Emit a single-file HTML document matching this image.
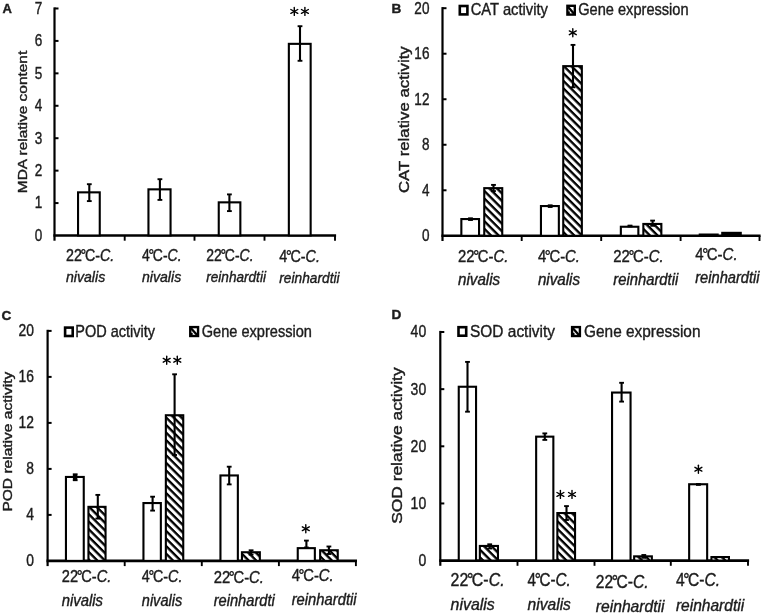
<!DOCTYPE html>
<html><head><meta charset="utf-8"><title>Figure</title>
<style>
html,body{margin:0;padding:0;background:#fff;}
body{width:763px;height:614px;overflow:hidden;}
svg text{stroke:#1c1c1c;stroke-width:0.4px;}
svg{display:block;filter:blur(0.6px);font-family:"Liberation Sans",sans-serif;fill:#1c1c1c;}
</style></head><body>
<svg width="763" height="614" viewBox="0 0 763 614">
<defs>
<pattern id="hatch" patternUnits="userSpaceOnUse" width="5.35" height="5.35" patternTransform="rotate(45)">
<rect x="0" y="0" width="5.35" height="5.35" fill="#fff"/>
<rect x="0" y="0" width="5.35" height="2.35" fill="#000"/>
</pattern>
</defs>
<rect x="0" y="0" width="763" height="614" fill="#fff"/>
<line x1="54.5" y1="7.4" x2="54.5" y2="240.7" stroke="#000" stroke-width="2.2" stroke-linecap="butt"/>
<line x1="53.4" y1="235.5" x2="336.1" y2="235.5" stroke="#000" stroke-width="2.6" stroke-linecap="butt"/>
<line x1="54.5" y1="203.07" x2="58.5" y2="203.07" stroke="#000" stroke-width="2.0" stroke-linecap="butt"/>
<line x1="54.5" y1="170.64" x2="58.5" y2="170.64" stroke="#000" stroke-width="2.0" stroke-linecap="butt"/>
<line x1="54.5" y1="138.21" x2="58.5" y2="138.21" stroke="#000" stroke-width="2.0" stroke-linecap="butt"/>
<line x1="54.5" y1="105.78" x2="58.5" y2="105.78" stroke="#000" stroke-width="2.0" stroke-linecap="butt"/>
<line x1="54.5" y1="73.35" x2="58.5" y2="73.35" stroke="#000" stroke-width="2.0" stroke-linecap="butt"/>
<line x1="54.5" y1="40.920000000000016" x2="58.5" y2="40.920000000000016" stroke="#000" stroke-width="2.0" stroke-linecap="butt"/>
<line x1="54.5" y1="8.490000000000009" x2="58.5" y2="8.490000000000009" stroke="#000" stroke-width="2.0" stroke-linecap="butt"/>
<line x1="124.7" y1="235.5" x2="124.7" y2="240.7" stroke="#000" stroke-width="1.9" stroke-linecap="butt"/>
<line x1="194.5" y1="235.5" x2="194.5" y2="240.7" stroke="#000" stroke-width="1.9" stroke-linecap="butt"/>
<line x1="264.5" y1="235.5" x2="264.5" y2="240.7" stroke="#000" stroke-width="1.9" stroke-linecap="butt"/>
<line x1="335" y1="235.5" x2="335" y2="240.7" stroke="#000" stroke-width="1.9" stroke-linecap="butt"/>
<text font-size="16.3" text-anchor="end" transform="translate(42.2,240.8) scale(0.8300,1)">0</text>
<text font-size="16.3" text-anchor="end" transform="translate(42.2,208.37) scale(0.8300,1)">1</text>
<text font-size="16.3" text-anchor="end" transform="translate(42.2,175.94) scale(0.8300,1)">2</text>
<text font-size="16.3" text-anchor="end" transform="translate(42.2,143.51000000000002) scale(0.8300,1)">3</text>
<text font-size="16.3" text-anchor="end" transform="translate(42.2,111.08) scale(0.8300,1)">4</text>
<text font-size="16.3" text-anchor="end" transform="translate(42.2,78.64999999999999) scale(0.8300,1)">5</text>
<text font-size="16.3" text-anchor="end" transform="translate(42.2,46.22000000000001) scale(0.8300,1)">6</text>
<text font-size="16.3" text-anchor="end" transform="translate(42.2,13.79000000000001) scale(0.8300,1)">7</text>
<text font-size="13" font-weight="bold" transform="translate(2.6,12.5) scale(1.0000,1)">A</text>
<text font-size="13.3" transform="translate(27.4,193.2) rotate(-90) scale(1.1613,1)">MDA relative content</text>
<rect x="78.05" y="192.35" width="21.70" height="43.15" fill="#fff" stroke="#000" stroke-width="2.1"/>
<line x1="89.3" y1="184.2" x2="89.3" y2="201.1" stroke="#000" stroke-width="2.1" stroke-linecap="butt"/>
<line x1="86.89999999999999" y1="184.2" x2="91.7" y2="184.2" stroke="#000" stroke-width="1.8900000000000001" stroke-linecap="butt"/>
<line x1="86.89999999999999" y1="201.1" x2="91.7" y2="201.1" stroke="#000" stroke-width="1.8900000000000001" stroke-linecap="butt"/>
<rect x="148.45" y="189.35" width="22.10" height="46.15" fill="#fff" stroke="#000" stroke-width="2.1"/>
<line x1="159.9" y1="179.2" x2="159.9" y2="199.9" stroke="#000" stroke-width="2.1" stroke-linecap="butt"/>
<line x1="157.5" y1="179.2" x2="162.3" y2="179.2" stroke="#000" stroke-width="1.8900000000000001" stroke-linecap="butt"/>
<line x1="157.5" y1="199.9" x2="162.3" y2="199.9" stroke="#000" stroke-width="1.8900000000000001" stroke-linecap="butt"/>
<rect x="218.75" y="202.35" width="21.60" height="33.15" fill="#fff" stroke="#000" stroke-width="2.1"/>
<line x1="229.4" y1="194.4" x2="229.4" y2="211.1" stroke="#000" stroke-width="2.1" stroke-linecap="butt"/>
<line x1="227.0" y1="194.4" x2="231.8" y2="194.4" stroke="#000" stroke-width="1.8900000000000001" stroke-linecap="butt"/>
<line x1="227.0" y1="211.1" x2="231.8" y2="211.1" stroke="#000" stroke-width="1.8900000000000001" stroke-linecap="butt"/>
<rect x="288.85" y="43.85" width="21.80" height="191.65" fill="#fff" stroke="#000" stroke-width="2.1"/>
<line x1="300" y1="26.2" x2="300" y2="60.8" stroke="#000" stroke-width="2.1" stroke-linecap="butt"/>
<line x1="297.6" y1="26.2" x2="302.4" y2="26.2" stroke="#000" stroke-width="1.8900000000000001" stroke-linecap="butt"/>
<line x1="297.6" y1="60.8" x2="302.4" y2="60.8" stroke="#000" stroke-width="1.8900000000000001" stroke-linecap="butt"/>
<line x1="294.30" y1="7.40" x2="294.30" y2="15.40" stroke="#000" stroke-width="1.4" stroke-linecap="round"/>
<line x1="290.84" y1="9.50" x2="297.76" y2="13.30" stroke="#000" stroke-width="1.4" stroke-linecap="round"/>
<line x1="297.76" y1="9.50" x2="290.84" y2="13.30" stroke="#000" stroke-width="1.4" stroke-linecap="round"/>
<line x1="304.90" y1="7.40" x2="304.90" y2="15.40" stroke="#000" stroke-width="1.4" stroke-linecap="round"/>
<line x1="301.44" y1="9.50" x2="308.36" y2="13.30" stroke="#000" stroke-width="1.4" stroke-linecap="round"/>
<line x1="308.36" y1="9.50" x2="301.44" y2="13.30" stroke="#000" stroke-width="1.4" stroke-linecap="round"/>
<text font-size="16.0" transform="translate(66,260.5) scale(0.8912,1)">22<tspan dx="-1.44">°</tspan><tspan dx="-1.44">C-</tspan><tspan font-style="italic">C.</tspan></text>
<text font-size="15.1" font-style="italic" transform="translate(66,282.3) scale(0.9342,1)">nivalis</text>
<text font-size="16.0" transform="translate(142,260.5) scale(0.8742,1)">4<tspan dx="-1.44">°</tspan><tspan dx="-1.44">C-</tspan><tspan font-style="italic">C.</tspan></text>
<text font-size="15.1" font-style="italic" transform="translate(142,282.3) scale(0.9342,1)">nivalis</text>
<text font-size="16.0" transform="translate(206.2,260.5) scale(0.8746,1)">22<tspan dx="-1.44">°</tspan><tspan dx="-1.44">C-</tspan><tspan font-style="italic">C.</tspan></text>
<text font-size="15.1" font-style="italic" transform="translate(206.2,282.3) scale(0.9019,1)">reinhardtii</text>
<text font-size="16.0" transform="translate(279.3,261.5) scale(0.8963,1)">4<tspan dx="-1.44">°</tspan><tspan dx="-1.44">C-</tspan><tspan font-style="italic">C.</tspan></text>
<text font-size="15.1" font-style="italic" transform="translate(279.3,283.2) scale(0.9095,1)">reinhardtii</text>
<line x1="442.5" y1="7.1" x2="442.5" y2="241.0" stroke="#000" stroke-width="2.2" stroke-linecap="butt"/>
<line x1="441.4" y1="235.8" x2="760.6" y2="235.8" stroke="#000" stroke-width="2.6" stroke-linecap="butt"/>
<line x1="442.5" y1="190.28" x2="446.5" y2="190.28" stroke="#000" stroke-width="2.0" stroke-linecap="butt"/>
<line x1="442.5" y1="144.76" x2="446.5" y2="144.76" stroke="#000" stroke-width="2.0" stroke-linecap="butt"/>
<line x1="442.5" y1="99.24000000000001" x2="446.5" y2="99.24000000000001" stroke="#000" stroke-width="2.0" stroke-linecap="butt"/>
<line x1="442.5" y1="53.72" x2="446.5" y2="53.72" stroke="#000" stroke-width="2.0" stroke-linecap="butt"/>
<line x1="442.5" y1="8.199999999999989" x2="446.5" y2="8.199999999999989" stroke="#000" stroke-width="2.0" stroke-linecap="butt"/>
<line x1="521.7" y1="235.8" x2="521.7" y2="241.0" stroke="#000" stroke-width="1.9" stroke-linecap="butt"/>
<line x1="601.2" y1="235.8" x2="601.2" y2="241.0" stroke="#000" stroke-width="1.9" stroke-linecap="butt"/>
<line x1="680.6" y1="235.8" x2="680.6" y2="241.0" stroke="#000" stroke-width="1.9" stroke-linecap="butt"/>
<line x1="759.5" y1="235.8" x2="759.5" y2="241.0" stroke="#000" stroke-width="1.9" stroke-linecap="butt"/>
<text font-size="16.3" text-anchor="end" transform="translate(429.4,241.10000000000002) scale(0.8300,1)">0</text>
<text font-size="16.3" text-anchor="end" transform="translate(429.4,195.58) scale(0.8300,1)">4</text>
<text font-size="16.3" text-anchor="end" transform="translate(429.4,150.06) scale(0.8300,1)">8</text>
<text font-size="16.3" text-anchor="end" transform="translate(429.4,104.54) scale(0.8300,1)">12</text>
<text font-size="16.3" text-anchor="end" transform="translate(429.4,59.019999999999996) scale(0.8300,1)">16</text>
<text font-size="16.3" text-anchor="end" transform="translate(429.4,13.49999999999999) scale(0.8300,1)">20</text>
<text font-size="13.6" font-weight="bold" transform="translate(391.5,12.8) scale(1.0000,1)">B</text>
<text font-size="13.7" transform="translate(408.8,193) rotate(-90) scale(1.2256,1)">CAT relative activity</text>
<rect x="459.80" y="6.00" width="7.60" height="8.40" fill="#fff" stroke="#000" stroke-width="2.6"/>
<text font-size="16.6" transform="translate(470.7,15.4) scale(0.8884,1)">CAT activity</text>
<rect x="567.40" y="5.80" width="7.40" height="8.80" fill="#fff" stroke="#000" stroke-width="2.4"/>
<line x1="567.70" y1="6.40" x2="574.50" y2="14.30" stroke="#000" stroke-width="2.3"/>
<rect x="567.20" y="11.40" width="2.6" height="2.6" fill="#000"/>
<text font-size="16.6" transform="translate(578.2,15.4) scale(0.8806,1)">Gene expression</text>
<rect x="461.35" y="219.05" width="17.70" height="16.75" fill="#fff" stroke="#000" stroke-width="2.1"/>
<line x1="470.5" y1="218.3" x2="470.5" y2="220" stroke="#000" stroke-width="2.1" stroke-linecap="butt"/>
<line x1="468.1" y1="218.3" x2="472.9" y2="218.3" stroke="#000" stroke-width="1.8900000000000001" stroke-linecap="butt"/>
<line x1="468.1" y1="220" x2="472.9" y2="220" stroke="#000" stroke-width="1.8900000000000001" stroke-linecap="butt"/>
<rect x="484.25" y="188.15" width="18.00" height="47.65" fill="url(#hatch)" stroke="#000" stroke-width="2.1"/>
<line x1="493.5" y1="184.9" x2="493.5" y2="191.1" stroke="#000" stroke-width="2.1" stroke-linecap="butt"/>
<line x1="491.1" y1="184.9" x2="495.9" y2="184.9" stroke="#000" stroke-width="1.8900000000000001" stroke-linecap="butt"/>
<line x1="491.1" y1="191.1" x2="495.9" y2="191.1" stroke="#000" stroke-width="1.8900000000000001" stroke-linecap="butt"/>
<rect x="540.95" y="206.05" width="17.90" height="29.75" fill="#fff" stroke="#000" stroke-width="2.1"/>
<line x1="550.2" y1="205.3" x2="550.2" y2="207" stroke="#000" stroke-width="2.1" stroke-linecap="butt"/>
<line x1="547.8000000000001" y1="205.3" x2="552.6" y2="205.3" stroke="#000" stroke-width="1.8900000000000001" stroke-linecap="butt"/>
<line x1="547.8000000000001" y1="207" x2="552.6" y2="207" stroke="#000" stroke-width="1.8900000000000001" stroke-linecap="butt"/>
<rect x="563.25" y="66.15" width="18.60" height="169.65" fill="url(#hatch)" stroke="#000" stroke-width="2.1"/>
<line x1="573" y1="44.9" x2="573" y2="87.3" stroke="#000" stroke-width="2.1" stroke-linecap="butt"/>
<line x1="570.6" y1="44.9" x2="575.4" y2="44.9" stroke="#000" stroke-width="1.8900000000000001" stroke-linecap="butt"/>
<line x1="570.6" y1="87.3" x2="575.4" y2="87.3" stroke="#000" stroke-width="1.8900000000000001" stroke-linecap="butt"/>
<rect x="620.85" y="226.75" width="17.50" height="9.05" fill="#fff" stroke="#000" stroke-width="2.1"/>
<line x1="630" y1="225.6" x2="630" y2="226.4" stroke="#000" stroke-width="2.1" stroke-linecap="butt"/>
<line x1="627.6" y1="225.6" x2="632.4" y2="225.6" stroke="#000" stroke-width="1.8900000000000001" stroke-linecap="butt"/>
<line x1="627.6" y1="226.4" x2="632.4" y2="226.4" stroke="#000" stroke-width="1.8900000000000001" stroke-linecap="butt"/>
<rect x="643.35" y="223.95" width="18.00" height="11.85" fill="url(#hatch)" stroke="#000" stroke-width="2.1"/>
<line x1="652.6" y1="220.6" x2="652.6" y2="225.8" stroke="#000" stroke-width="2.1" stroke-linecap="butt"/>
<line x1="650.2" y1="220.6" x2="655.0" y2="220.6" stroke="#000" stroke-width="1.8900000000000001" stroke-linecap="butt"/>
<line x1="650.2" y1="225.8" x2="655.0" y2="225.8" stroke="#000" stroke-width="1.8900000000000001" stroke-linecap="butt"/>
<rect x="699.75" y="234.55" width="17.90" height="1.25" fill="#fff" stroke="#000" stroke-width="2.1"/>
<rect x="722.25" y="232.85" width="18.50" height="2.95" fill="#000" stroke="#000" stroke-width="2.1"/>
<line x1="572.80" y1="28.80" x2="572.80" y2="36.80" stroke="#000" stroke-width="1.4" stroke-linecap="round"/>
<line x1="569.34" y1="30.90" x2="576.26" y2="34.70" stroke="#000" stroke-width="1.4" stroke-linecap="round"/>
<line x1="576.26" y1="30.90" x2="569.34" y2="34.70" stroke="#000" stroke-width="1.4" stroke-linecap="round"/>
<text font-size="16.64" transform="translate(458,261.5) scale(0.8924,1)">22<tspan dx="-1.50">°</tspan><tspan dx="-1.50">C-</tspan><tspan font-style="italic">C.</tspan></text>
<text font-size="15.704" font-style="italic" transform="translate(458,285) scale(0.9671,1)">nivalis</text>
<text font-size="16.64" transform="translate(537.9,261.5) scale(0.8937,1)">4<tspan dx="-1.50">°</tspan><tspan dx="-1.50">C-</tspan><tspan font-style="italic">C.</tspan></text>
<text font-size="15.704" font-style="italic" transform="translate(537.9,285) scale(0.9671,1)">nivalis</text>
<text font-size="16.64" transform="translate(613.3,261.9) scale(0.8942,1)">22<tspan dx="-1.50">°</tspan><tspan dx="-1.50">C-</tspan><tspan font-style="italic">C.</tspan></text>
<text font-size="15.704" font-style="italic" transform="translate(613.3,285.2) scale(0.9427,1)">reinhardtii</text>
<text font-size="16.64" transform="translate(695.2,260.1) scale(0.9000,1)">4<tspan dx="-1.50">°</tspan><tspan dx="-1.50">C-</tspan><tspan font-style="italic">C.</tspan></text>
<text font-size="15.704" font-style="italic" transform="translate(695.2,282.7) scale(0.9354,1)">reinhardtii</text>
<line x1="47.6" y1="329.79999999999995" x2="47.6" y2="566.1" stroke="#000" stroke-width="2.2" stroke-linecap="butt"/>
<line x1="46.5" y1="560.9" x2="357.0" y2="560.9" stroke="#000" stroke-width="2.6" stroke-linecap="butt"/>
<line x1="47.6" y1="514.9" x2="51.6" y2="514.9" stroke="#000" stroke-width="2.0" stroke-linecap="butt"/>
<line x1="47.6" y1="468.9" x2="51.6" y2="468.9" stroke="#000" stroke-width="2.0" stroke-linecap="butt"/>
<line x1="47.6" y1="422.9" x2="51.6" y2="422.9" stroke="#000" stroke-width="2.0" stroke-linecap="butt"/>
<line x1="47.6" y1="376.9" x2="51.6" y2="376.9" stroke="#000" stroke-width="2.0" stroke-linecap="butt"/>
<line x1="47.6" y1="330.9" x2="51.6" y2="330.9" stroke="#000" stroke-width="2.0" stroke-linecap="butt"/>
<line x1="124.7" y1="560.9" x2="124.7" y2="566.1" stroke="#000" stroke-width="1.9" stroke-linecap="butt"/>
<line x1="201.8" y1="560.9" x2="201.8" y2="566.1" stroke="#000" stroke-width="1.9" stroke-linecap="butt"/>
<line x1="278.9" y1="560.9" x2="278.9" y2="566.1" stroke="#000" stroke-width="1.9" stroke-linecap="butt"/>
<line x1="355.9" y1="560.9" x2="355.9" y2="566.1" stroke="#000" stroke-width="1.9" stroke-linecap="butt"/>
<text font-size="16.5" text-anchor="end" transform="translate(34,566.3) scale(0.8400,1)">0</text>
<text font-size="16.5" text-anchor="end" transform="translate(34,520.3) scale(0.8400,1)">4</text>
<text font-size="16.5" text-anchor="end" transform="translate(34,474.29999999999995) scale(0.8400,1)">8</text>
<text font-size="16.5" text-anchor="end" transform="translate(34,428.29999999999995) scale(0.8400,1)">12</text>
<text font-size="16.5" text-anchor="end" transform="translate(34,382.29999999999995) scale(0.8400,1)">16</text>
<text font-size="16.5" text-anchor="end" transform="translate(34,336.29999999999995) scale(0.8400,1)">20</text>
<text font-size="13.6" font-weight="bold" transform="translate(1.6,320.4) scale(1.0000,1)">C</text>
<text font-size="13.3" transform="translate(12.2,511.6) rotate(-90) scale(1.1693,1)">POD relative activity</text>
<rect x="65.10" y="327.60" width="7.60" height="8.40" fill="#fff" stroke="#000" stroke-width="2.6"/>
<text font-size="16.2" transform="translate(75.3,336.8) scale(0.8955,1)">POD activity</text>
<rect x="190.25" y="327.10" width="7.80" height="8.90" fill="#fff" stroke="#000" stroke-width="2.4"/>
<line x1="190.55" y1="327.70" x2="197.75" y2="335.70" stroke="#000" stroke-width="2.3"/>
<rect x="190.05" y="332.80" width="2.6" height="2.6" fill="#000"/>
<text font-size="16.2" transform="translate(201.7,336.8) scale(0.9007,1)">Gene expression</text>
<rect x="65.95" y="476.95" width="17.80" height="83.95" fill="#fff" stroke="#000" stroke-width="2.1"/>
<line x1="75.2" y1="474.3" x2="75.2" y2="480.2" stroke="#000" stroke-width="2.1" stroke-linecap="butt"/>
<line x1="72.8" y1="474.3" x2="77.60000000000001" y2="474.3" stroke="#000" stroke-width="1.8900000000000001" stroke-linecap="butt"/>
<line x1="72.8" y1="480.2" x2="77.60000000000001" y2="480.2" stroke="#000" stroke-width="1.8900000000000001" stroke-linecap="butt"/>
<rect x="88.45" y="506.85" width="17.10" height="54.05" fill="url(#hatch)" stroke="#000" stroke-width="2.1"/>
<line x1="97.8" y1="494.9" x2="97.8" y2="518.6" stroke="#000" stroke-width="2.1" stroke-linecap="butt"/>
<line x1="95.39999999999999" y1="494.9" x2="100.2" y2="494.9" stroke="#000" stroke-width="1.8900000000000001" stroke-linecap="butt"/>
<line x1="95.39999999999999" y1="518.6" x2="100.2" y2="518.6" stroke="#000" stroke-width="1.8900000000000001" stroke-linecap="butt"/>
<rect x="143.45" y="503.05" width="17.40" height="57.85" fill="#fff" stroke="#000" stroke-width="2.1"/>
<line x1="152.6" y1="496.7" x2="152.6" y2="510.6" stroke="#000" stroke-width="2.1" stroke-linecap="butt"/>
<line x1="150.2" y1="496.7" x2="155.0" y2="496.7" stroke="#000" stroke-width="1.8900000000000001" stroke-linecap="butt"/>
<line x1="150.2" y1="510.6" x2="155.0" y2="510.6" stroke="#000" stroke-width="1.8900000000000001" stroke-linecap="butt"/>
<rect x="165.85" y="415.25" width="17.40" height="145.65" fill="url(#hatch)" stroke="#000" stroke-width="2.1"/>
<line x1="174.6" y1="374.3" x2="174.6" y2="455" stroke="#000" stroke-width="2.1" stroke-linecap="butt"/>
<line x1="172.2" y1="374.3" x2="177.0" y2="374.3" stroke="#000" stroke-width="1.8900000000000001" stroke-linecap="butt"/>
<line x1="172.2" y1="455" x2="177.0" y2="455" stroke="#000" stroke-width="1.8900000000000001" stroke-linecap="butt"/>
<rect x="220.45" y="475.45" width="17.40" height="85.45" fill="#fff" stroke="#000" stroke-width="2.1"/>
<line x1="229.2" y1="466.7" x2="229.2" y2="484.4" stroke="#000" stroke-width="2.1" stroke-linecap="butt"/>
<line x1="226.79999999999998" y1="466.7" x2="231.6" y2="466.7" stroke="#000" stroke-width="1.8900000000000001" stroke-linecap="butt"/>
<line x1="226.79999999999998" y1="484.4" x2="231.6" y2="484.4" stroke="#000" stroke-width="1.8900000000000001" stroke-linecap="butt"/>
<rect x="241.95" y="552.25" width="17.90" height="8.65" fill="url(#hatch)" stroke="#000" stroke-width="2.1"/>
<line x1="251.1" y1="550.3" x2="251.1" y2="554.6" stroke="#000" stroke-width="2.1" stroke-linecap="butt"/>
<line x1="248.7" y1="550.3" x2="253.5" y2="550.3" stroke="#000" stroke-width="1.8900000000000001" stroke-linecap="butt"/>
<line x1="248.7" y1="554.6" x2="253.5" y2="554.6" stroke="#000" stroke-width="1.8900000000000001" stroke-linecap="butt"/>
<rect x="297.75" y="548.15" width="17.10" height="12.75" fill="#fff" stroke="#000" stroke-width="2.1"/>
<line x1="306.4" y1="540.6" x2="306.4" y2="547.5" stroke="#000" stroke-width="2.1" stroke-linecap="butt"/>
<line x1="304.0" y1="540.6" x2="308.79999999999995" y2="540.6" stroke="#000" stroke-width="1.8900000000000001" stroke-linecap="butt"/>
<line x1="304.0" y1="547.5" x2="308.79999999999995" y2="547.5" stroke="#000" stroke-width="1.8900000000000001" stroke-linecap="butt"/>
<rect x="320.15" y="550.25" width="17.60" height="10.65" fill="url(#hatch)" stroke="#000" stroke-width="2.1"/>
<line x1="328.9" y1="546.5" x2="328.9" y2="554" stroke="#000" stroke-width="2.1" stroke-linecap="butt"/>
<line x1="326.5" y1="546.5" x2="331.29999999999995" y2="546.5" stroke="#000" stroke-width="1.8900000000000001" stroke-linecap="butt"/>
<line x1="326.5" y1="554" x2="331.29999999999995" y2="554" stroke="#000" stroke-width="1.8900000000000001" stroke-linecap="butt"/>
<rect x="72.9" y="474.6" width="4.4" height="5.4" rx="0.8" fill="#000"/>
<line x1="166.70" y1="356.30" x2="166.70" y2="364.30" stroke="#000" stroke-width="1.4" stroke-linecap="round"/>
<line x1="163.24" y1="358.40" x2="170.16" y2="362.20" stroke="#000" stroke-width="1.4" stroke-linecap="round"/>
<line x1="170.16" y1="358.40" x2="163.24" y2="362.20" stroke="#000" stroke-width="1.4" stroke-linecap="round"/>
<line x1="177.30" y1="356.30" x2="177.30" y2="364.30" stroke="#000" stroke-width="1.4" stroke-linecap="round"/>
<line x1="173.84" y1="358.40" x2="180.76" y2="362.20" stroke="#000" stroke-width="1.4" stroke-linecap="round"/>
<line x1="180.76" y1="358.40" x2="173.84" y2="362.20" stroke="#000" stroke-width="1.4" stroke-linecap="round"/>
<line x1="305.80" y1="524.70" x2="305.80" y2="532.70" stroke="#000" stroke-width="1.4" stroke-linecap="round"/>
<line x1="302.34" y1="526.80" x2="309.26" y2="530.60" stroke="#000" stroke-width="1.4" stroke-linecap="round"/>
<line x1="309.26" y1="526.80" x2="302.34" y2="530.60" stroke="#000" stroke-width="1.4" stroke-linecap="round"/>
<text font-size="16.64" transform="translate(61.8,582.2) scale(0.8782,1)">22<tspan dx="-1.50">°</tspan><tspan dx="-1.50">C-</tspan><tspan font-style="italic">C.</tspan></text>
<text font-size="15.704" font-style="italic" transform="translate(61.8,606) scale(0.9464,1)">nivalis</text>
<text font-size="16.64" transform="translate(141.8,582.2) scale(0.8618,1)">4<tspan dx="-1.50">°</tspan><tspan dx="-1.50">C-</tspan><tspan font-style="italic">C.</tspan></text>
<text font-size="15.704" font-style="italic" transform="translate(141.8,606) scale(0.9258,1)">nivalis</text>
<text font-size="16.64" transform="translate(213.7,582.9) scale(0.8907,1)">22<tspan dx="-1.50">°</tspan><tspan dx="-1.50">C-</tspan><tspan font-style="italic">C.</tspan></text>
<text font-size="15.704" font-style="italic" transform="translate(213.7,605.9) scale(0.9333,1)">reinhardti</text>
<text font-size="16.64" transform="translate(291.7,580.9) scale(0.8915,1)">4<tspan dx="-1.50">°</tspan><tspan dx="-1.50">C-</tspan><tspan font-style="italic">C.</tspan></text>
<text font-size="15.704" font-style="italic" transform="translate(291.7,604.9) scale(0.9412,1)">reinhardtii</text>
<line x1="440.3" y1="330.9" x2="440.3" y2="565.8000000000001" stroke="#000" stroke-width="2.2" stroke-linecap="butt"/>
<line x1="439.2" y1="560.6" x2="749.1" y2="560.6" stroke="#000" stroke-width="2.6" stroke-linecap="butt"/>
<line x1="440.3" y1="503.45000000000005" x2="444.3" y2="503.45000000000005" stroke="#000" stroke-width="2.0" stroke-linecap="butt"/>
<line x1="440.3" y1="446.3" x2="444.3" y2="446.3" stroke="#000" stroke-width="2.0" stroke-linecap="butt"/>
<line x1="440.3" y1="389.15000000000003" x2="444.3" y2="389.15000000000003" stroke="#000" stroke-width="2.0" stroke-linecap="butt"/>
<line x1="440.3" y1="332.0" x2="444.3" y2="332.0" stroke="#000" stroke-width="2.0" stroke-linecap="butt"/>
<line x1="517.5" y1="560.6" x2="517.5" y2="565.8000000000001" stroke="#000" stroke-width="1.9" stroke-linecap="butt"/>
<line x1="594.5" y1="560.6" x2="594.5" y2="565.8000000000001" stroke="#000" stroke-width="1.9" stroke-linecap="butt"/>
<line x1="670.8" y1="560.6" x2="670.8" y2="565.8000000000001" stroke="#000" stroke-width="1.9" stroke-linecap="butt"/>
<line x1="748" y1="560.6" x2="748" y2="565.8000000000001" stroke="#000" stroke-width="1.9" stroke-linecap="butt"/>
<text font-size="16.5" text-anchor="end" transform="translate(426.2,566.0) scale(0.8500,1)">0</text>
<text font-size="16.5" text-anchor="end" transform="translate(426.2,508.85) scale(0.8500,1)">10</text>
<text font-size="16.5" text-anchor="end" transform="translate(426.2,451.7) scale(0.8500,1)">20</text>
<text font-size="16.5" text-anchor="end" transform="translate(426.2,394.55) scale(0.8500,1)">30</text>
<text font-size="16.5" text-anchor="end" transform="translate(426.2,337.4) scale(0.8500,1)">40</text>
<text font-size="13.6" font-weight="bold" transform="translate(391.5,318.6) scale(1.0000,1)">D</text>
<text font-size="14.2" transform="translate(402,523.8) rotate(-90) scale(1.2243,1)">SOD relative activity</text>
<rect x="458.50" y="327.20" width="7.70" height="8.50" fill="#fff" stroke="#000" stroke-width="2.6"/>
<text font-size="17.2" transform="translate(470,337.4) scale(0.8994,1)">SOD activity</text>
<rect x="572.10" y="327.10" width="7.80" height="8.90" fill="#fff" stroke="#000" stroke-width="2.4"/>
<line x1="572.40" y1="327.70" x2="579.60" y2="335.70" stroke="#000" stroke-width="2.3"/>
<rect x="571.90" y="332.80" width="2.6" height="2.6" fill="#000"/>
<text font-size="17.2" transform="translate(584,337.4) scale(0.8960,1)">Gene expression</text>
<rect x="458.75" y="386.75" width="17.30" height="173.85" fill="#fff" stroke="#000" stroke-width="2.1"/>
<line x1="467.5" y1="361.9" x2="467.5" y2="411.7" stroke="#000" stroke-width="2.1" stroke-linecap="butt"/>
<line x1="465.1" y1="361.9" x2="469.9" y2="361.9" stroke="#000" stroke-width="1.8900000000000001" stroke-linecap="butt"/>
<line x1="465.1" y1="411.7" x2="469.9" y2="411.7" stroke="#000" stroke-width="1.8900000000000001" stroke-linecap="butt"/>
<rect x="479.85" y="545.95" width="18.10" height="14.65" fill="url(#hatch)" stroke="#000" stroke-width="2.1"/>
<line x1="489.7" y1="544.3" x2="489.7" y2="548.5" stroke="#000" stroke-width="2.1" stroke-linecap="butt"/>
<line x1="487.3" y1="544.3" x2="492.09999999999997" y2="544.3" stroke="#000" stroke-width="1.8900000000000001" stroke-linecap="butt"/>
<line x1="487.3" y1="548.5" x2="492.09999999999997" y2="548.5" stroke="#000" stroke-width="1.8900000000000001" stroke-linecap="butt"/>
<rect x="536.15" y="436.65" width="17.20" height="123.95" fill="#fff" stroke="#000" stroke-width="2.1"/>
<line x1="544.8" y1="433.4" x2="544.8" y2="439.9" stroke="#000" stroke-width="2.1" stroke-linecap="butt"/>
<line x1="542.4" y1="433.4" x2="547.1999999999999" y2="433.4" stroke="#000" stroke-width="1.8900000000000001" stroke-linecap="butt"/>
<line x1="542.4" y1="439.9" x2="547.1999999999999" y2="439.9" stroke="#000" stroke-width="1.8900000000000001" stroke-linecap="butt"/>
<rect x="557.35" y="513.05" width="17.70" height="47.55" fill="url(#hatch)" stroke="#000" stroke-width="2.1"/>
<line x1="566.5" y1="506.1" x2="566.5" y2="520" stroke="#000" stroke-width="2.1" stroke-linecap="butt"/>
<line x1="564.1" y1="506.1" x2="568.9" y2="506.1" stroke="#000" stroke-width="1.8900000000000001" stroke-linecap="butt"/>
<line x1="564.1" y1="520" x2="568.9" y2="520" stroke="#000" stroke-width="1.8900000000000001" stroke-linecap="butt"/>
<rect x="612.05" y="392.55" width="18.50" height="168.05" fill="#fff" stroke="#000" stroke-width="2.1"/>
<line x1="621.6" y1="382.8" x2="621.6" y2="401.6" stroke="#000" stroke-width="2.1" stroke-linecap="butt"/>
<line x1="619.2" y1="382.8" x2="624.0" y2="382.8" stroke="#000" stroke-width="1.8900000000000001" stroke-linecap="butt"/>
<line x1="619.2" y1="401.6" x2="624.0" y2="401.6" stroke="#000" stroke-width="1.8900000000000001" stroke-linecap="butt"/>
<rect x="634.15" y="556.35" width="17.70" height="4.25" fill="url(#hatch)" stroke="#000" stroke-width="2.1"/>
<line x1="643.8" y1="555" x2="643.8" y2="557.8" stroke="#000" stroke-width="2.1" stroke-linecap="butt"/>
<line x1="641.4" y1="555" x2="646.1999999999999" y2="555" stroke="#000" stroke-width="1.8900000000000001" stroke-linecap="butt"/>
<line x1="641.4" y1="557.8" x2="646.1999999999999" y2="557.8" stroke="#000" stroke-width="1.8900000000000001" stroke-linecap="butt"/>
<rect x="689.15" y="484.25" width="18.00" height="76.35" fill="#fff" stroke="#000" stroke-width="2.1"/>
<line x1="698.4" y1="484" x2="698.4" y2="484.9" stroke="#000" stroke-width="2.1" stroke-linecap="butt"/>
<line x1="696.0" y1="484" x2="700.8" y2="484" stroke="#000" stroke-width="1.8900000000000001" stroke-linecap="butt"/>
<line x1="696.0" y1="484.9" x2="700.8" y2="484.9" stroke="#000" stroke-width="1.8900000000000001" stroke-linecap="butt"/>
<rect x="711.45" y="557.05" width="17.50" height="3.55" fill="url(#hatch)" stroke="#000" stroke-width="2.1"/>
<line x1="560.40" y1="490.40" x2="560.40" y2="498.40" stroke="#000" stroke-width="1.4" stroke-linecap="round"/>
<line x1="556.94" y1="492.50" x2="563.86" y2="496.30" stroke="#000" stroke-width="1.4" stroke-linecap="round"/>
<line x1="563.86" y1="492.50" x2="556.94" y2="496.30" stroke="#000" stroke-width="1.4" stroke-linecap="round"/>
<line x1="572.00" y1="490.40" x2="572.00" y2="498.40" stroke="#000" stroke-width="1.4" stroke-linecap="round"/>
<line x1="568.54" y1="492.50" x2="575.46" y2="496.30" stroke="#000" stroke-width="1.4" stroke-linecap="round"/>
<line x1="575.46" y1="492.50" x2="568.54" y2="496.30" stroke="#000" stroke-width="1.4" stroke-linecap="round"/>
<line x1="698.40" y1="465.20" x2="698.40" y2="473.20" stroke="#000" stroke-width="1.4" stroke-linecap="round"/>
<line x1="694.94" y1="467.30" x2="701.86" y2="471.10" stroke="#000" stroke-width="1.4" stroke-linecap="round"/>
<line x1="701.86" y1="467.30" x2="694.94" y2="471.10" stroke="#000" stroke-width="1.4" stroke-linecap="round"/>
<text font-size="17.6" transform="translate(450.6,585.9) scale(0.9058,1)">22<tspan dx="-1.58">°</tspan><tspan dx="-1.58">C-</tspan><tspan font-style="italic">C.</tspan></text>
<text font-size="16.61" font-style="italic" transform="translate(450.6,609.6) scale(0.9555,1)">nivalis</text>
<text font-size="17.6" transform="translate(527.6,585.9) scale(0.8650,1)">4<tspan dx="-1.58">°</tspan><tspan dx="-1.58">C-</tspan><tspan font-style="italic">C.</tspan></text>
<text font-size="16.61" font-style="italic" transform="translate(527.6,609.6) scale(0.9381,1)">nivalis</text>
<text font-size="17.6" transform="translate(595.8,587.7) scale(0.8874,1)">22<tspan dx="-1.58">°</tspan><tspan dx="-1.58">C-</tspan><tspan font-style="italic">C.</tspan></text>
<text font-size="16.61" font-style="italic" transform="translate(595.8,612.2) scale(0.9434,1)">reinhardtii</text>
<text font-size="17.6" transform="translate(675.9,586.4) scale(0.8851,1)">4<tspan dx="-1.58">°</tspan><tspan dx="-1.58">C-</tspan><tspan font-style="italic">C.</tspan></text>
<text font-size="16.61" font-style="italic" transform="translate(675.9,610.9) scale(0.9365,1)">reinhardtii</text>
</svg>
</body></html>
